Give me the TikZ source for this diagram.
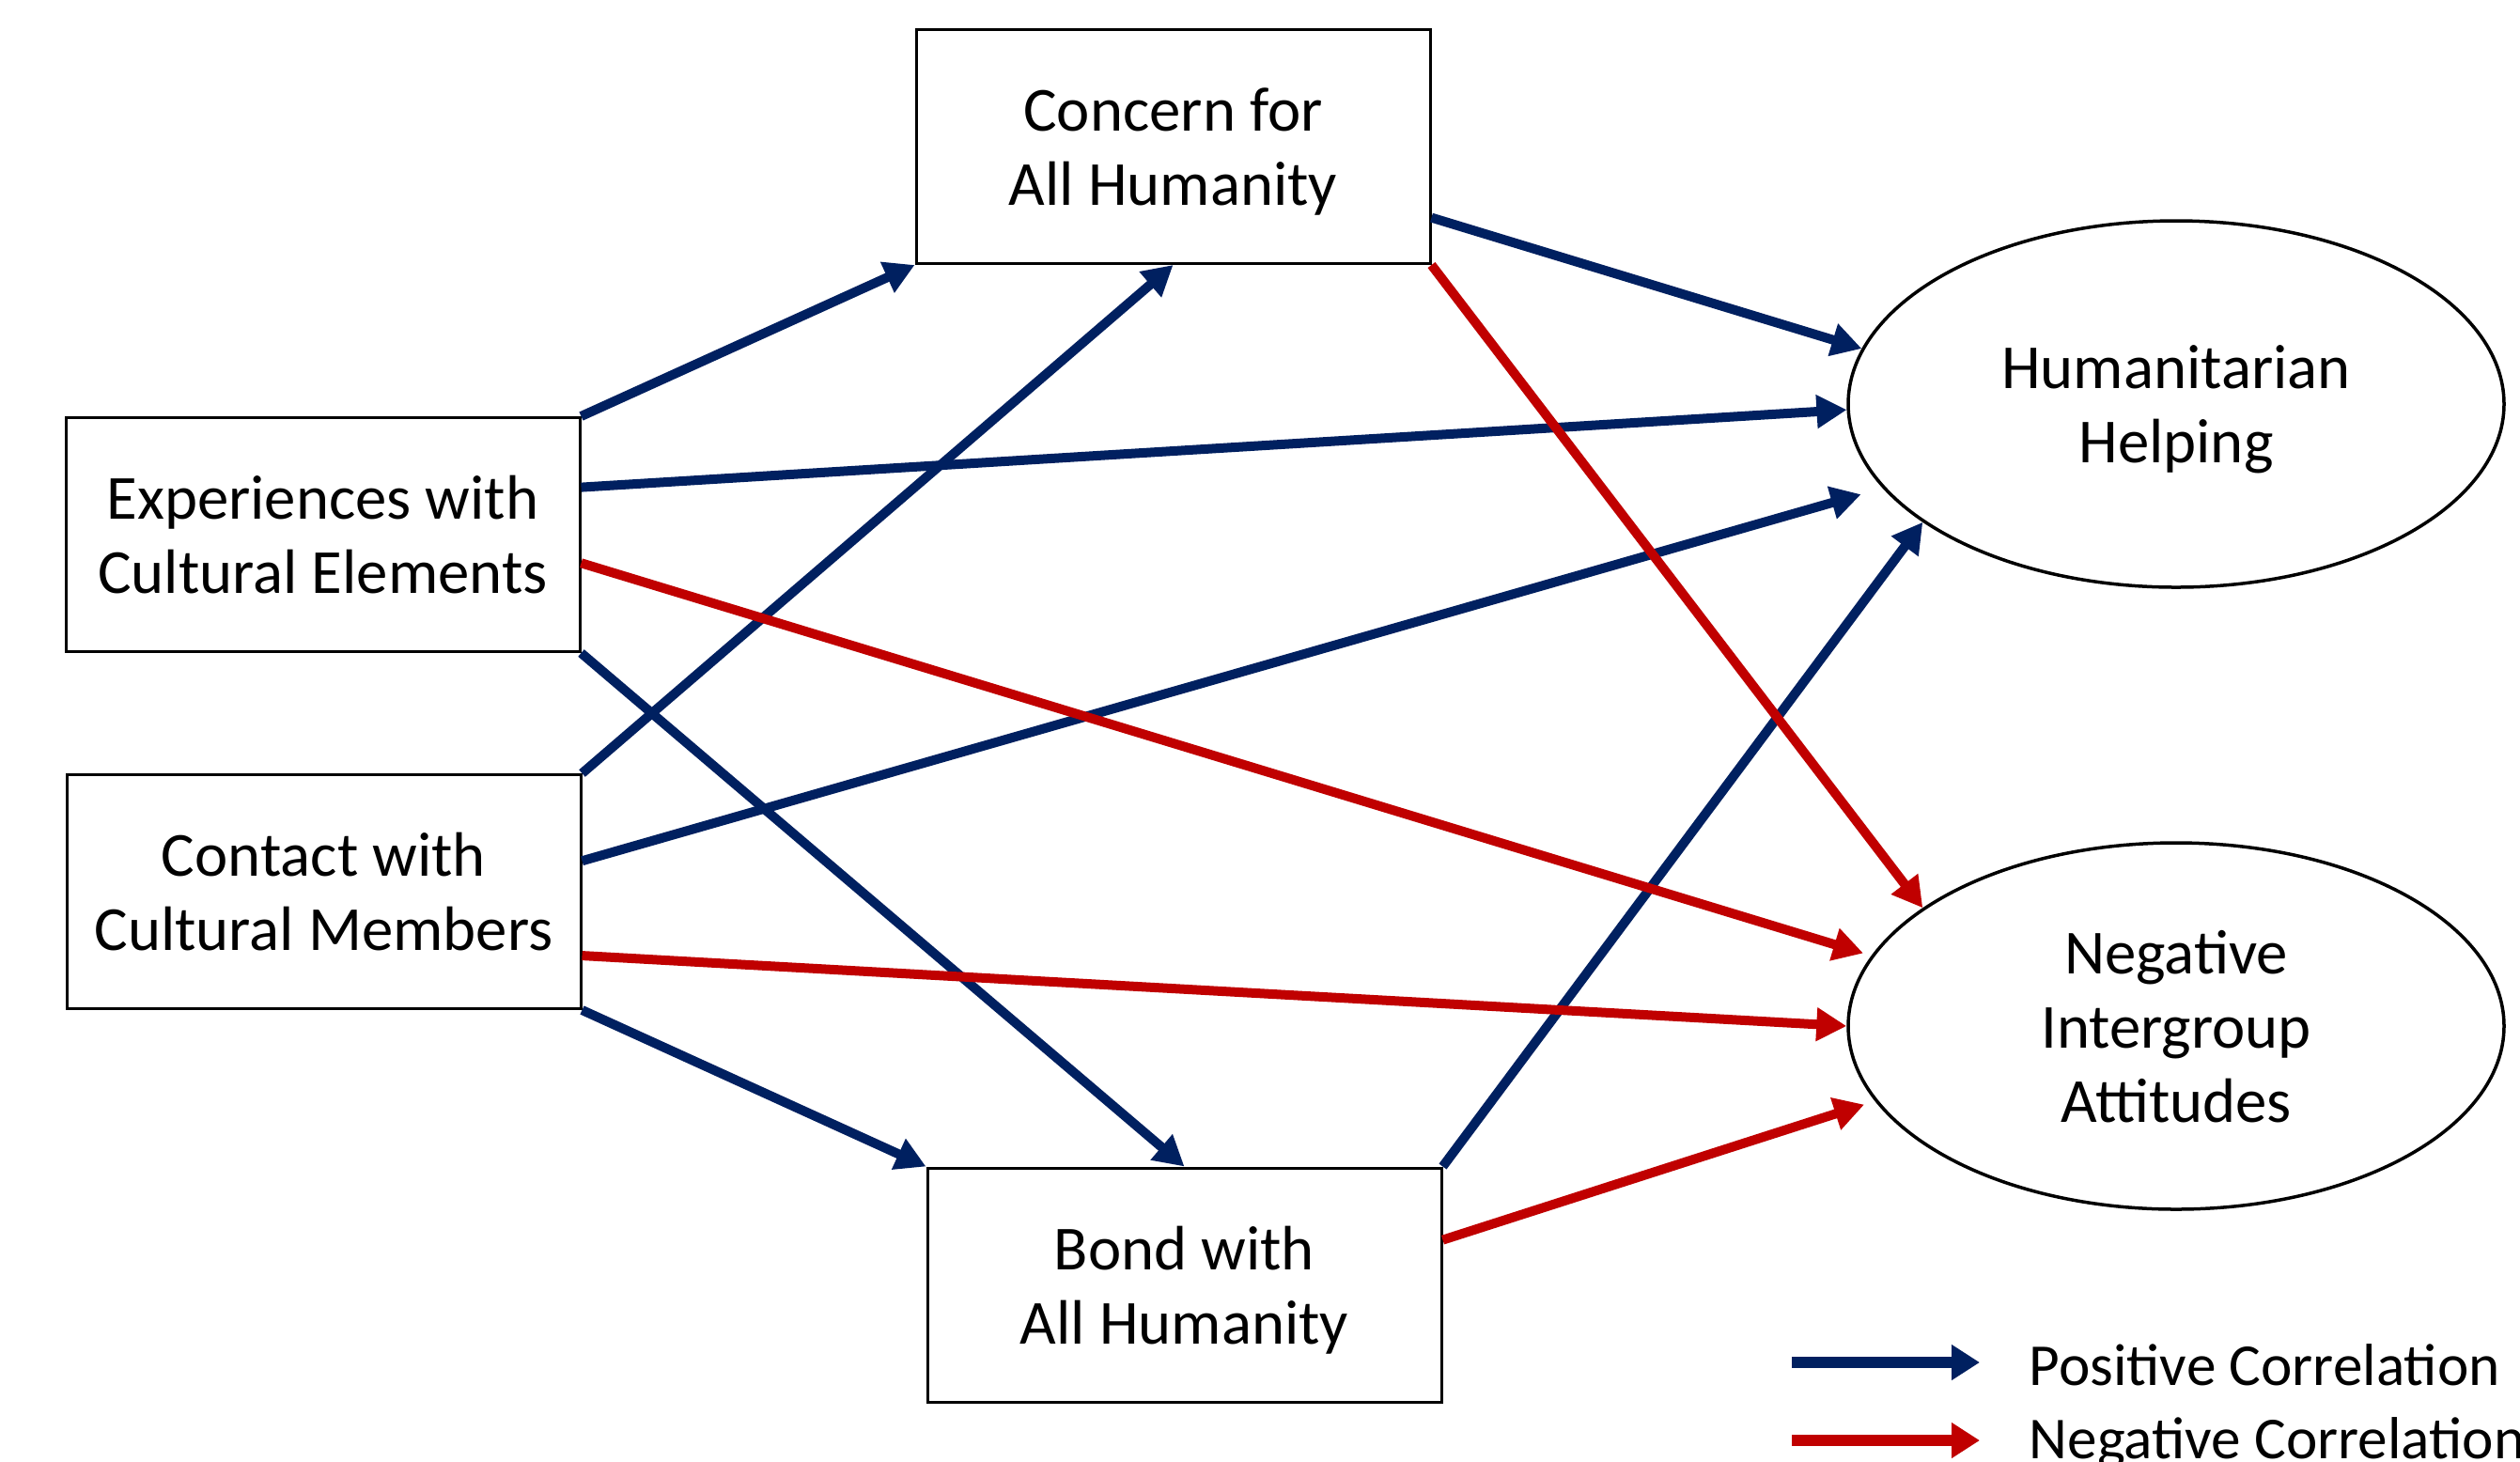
\documentclass[tikz,border=0pt]{standalone}
\usepackage{fontspec}
\setmainfont{Carlito}
\usetikzlibrary{arrows.meta,shapes.geometric,calc}
\definecolor{posblue}{HTML}{002060}
\definecolor{negred}{HTML}{C00000}
\newcommand\mltext[1]{\raisebox{-0.075cm}[\height][\depth]{\begin{tabular}{@{}c@{}}#1\end{tabular}}}
\begin{document}
\begin{tikzpicture}[
 box/.style={draw=black, line width=0.03cm, rectangle, minimum width=5.47cm, minimum height=2.49cm, inner sep=0pt, font=\fontsize{19}{22.4}\selectfont},
 oval/.style={draw=black, line width=0.035cm, ellipse, minimum width=6.98cm, minimum height=3.9cm, inner sep=0pt, font=\fontsize{19}{22.4}\selectfont},
 posarrow/.style={draw=posblue, line width=0.1cm, -{Triangle[length=0.32cm,width=0.34cm]}},
 negarrow/.style={draw=negred, line width=0.1cm, -{Triangle[length=0.32cm,width=0.34cm]}},
 legpos/.style={draw=posblue, line width=0.12cm, -{Triangle[length=0.3cm,width=0.36cm]}},
 legneg/.style={draw=negred, line width=0.12cm, -{Triangle[length=0.3cm,width=0.36cm]}},
 legtext/.style={anchor=west, inner sep=0pt, font=\fontsize{18}{21}\selectfont},
]
\clip (0,0) rectangle (26.82,-15.55);
\fill[white] (0,0) rectangle (26.82,-15.55);

\node[box] (concern) at (12.485,-1.56) {\mltext{Concern for\\All Humanity}};
\node[box] (exp) at (3.435,-5.69) {\mltext{Experiences with\\Cultural Elements}};
\node[box] (contact) at (3.445,-9.49) {\mltext{Contact with\\Cultural Members}};
\node[box] (bond) at (12.605,-13.675) {\mltext{Bond with\\All Humanity}};
\node[oval] (hum) at (23.16,-4.30) {\mltext{Humanitarian\\Helping}};
\node[oval] (negatt) at (23.16,-10.92) {\mltext{Negative\\Intergroup\\Attitudes}};

% positive paths
\draw[posarrow] (exp.north east) -- (concern.south west);
\draw[posarrow] (contact.north east) -- (concern.south);
\draw[posarrow] ($(concern.south east)!0.2!(concern.north east)$) -- (hum.170);
\draw[posarrow] ($(exp.south east)!0.7!(exp.north east)$) -- (hum.181);
\draw[posarrow, shorten >=0.24cm] ($(contact.south east)!0.63!(contact.north east)$) -- (hum.196);
\draw[posarrow] (bond.north east) -- (hum.205);
\draw[posarrow] (exp.south east) -- (bond.north);
\draw[posarrow] (contact.south east) -- (bond.north west);

% negative paths
\draw[negarrow] (concern.south east) -- (negatt.155.6);
\draw[negarrow, shorten >=0.09cm] ($(exp.south east)!0.38!(exp.north east)$) -- (negatt.167);
\draw[negarrow] ($(contact.south east)!0.23!(contact.north east)$) -- (negatt.west);
\draw[negarrow, shorten >=0.12cm] ($(bond.south east)!0.69!(bond.north east)$) -- (negatt.194);

% legend
\coordinate (lp1) at (19.07,-14.50);
\coordinate (lp2) at (21.07,-14.50);
\coordinate (ln1) at (19.07,-15.33);
\coordinate (ln2) at (21.07,-15.33);
\draw[legpos] (lp1) -- (lp2);
\draw[legneg] (ln1) -- (ln2);
\node[legtext] (lpt) at (21.59,-14.53) {Positive Correlation};
\node[legtext] (lnt) at (21.59,-15.36) {Negative Correlation};
\end{tikzpicture}
\end{document}
